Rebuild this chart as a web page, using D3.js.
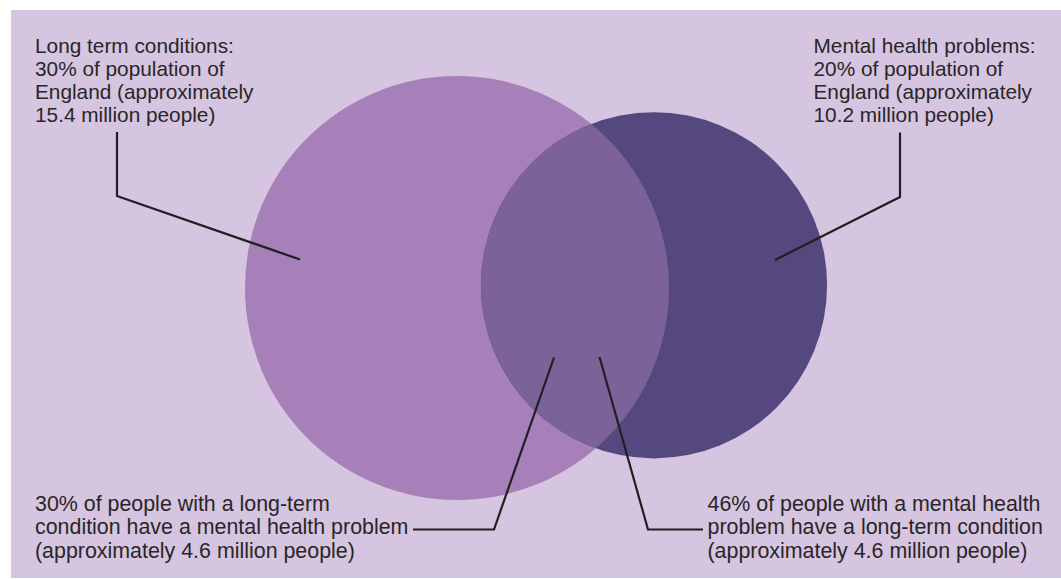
<!DOCTYPE html>
<html>
<head>
<meta charset="utf-8">
<script src="https://cdn.jsdelivr.net/npm/d3@7"></script>
<style>
  html, body { margin: 0; padding: 0; background: #ffffff; }
  svg { display: block; }
  text { font-family: "Liberation Sans", Arial, sans-serif; fill: #2a2527; }
</style>
</head>
<body>
<svg id="chart" width="1061" height="579"></svg>
<script>
// ---- data ----
const sets = ["Long term conditions", "Mental health problems"];
const populationShare = [30, 20];          // % of population of England
const populationMillions = [15.4, 10.2];  // million people
const overlapMillions = 4.6;
const overlapShareOfSet = [30, 46];        // % of each set that also has the other

const labelTop = [
  ["Long term conditions:", "30% of population of", "England (approximately", "15.4 million people)"],
  ["Mental health problems:", "20% of population of", "England (approximately", "10.2 million people)"]
];
const labelBottom = [
  ["30% of people with a long-term", "condition have a mental health problem", "(approximately 4.6 million people)"],
  ["46% of people with a mental health", "problem have a long-term condition", "(approximately 4.6 million people)"]
];

// ---- layout ----
const W = 1061, H = 579;
const svg = d3.select("#chart");
const colors = { bg: "#d5c5e0", a: "#a780b9", b: "#55487f", ab: "#7b6399", ink: "#231f20" };

svg.append("rect").attr("x", 11).attr("y", 10).attr("width", W - 11).attr("height", H - 11)
  .attr("fill", colors.bg);

const r = d3.scaleSqrt().domain([0, populationShare[0]]).range([0, 212]);
const centers = [[457, 288], [654, 285.3]];
const circles = sets.map((s, i) => ({ name: s, cx: centers[i][0], cy: centers[i][1], r: r(populationShare[i]) }));

svg.append("defs").append("clipPath").attr("id", "clipA")
  .append("circle").attr("cx", circles[0].cx).attr("cy", circles[0].cy).attr("r", circles[0].r);

svg.selectAll("circle.set").data(circles).join("circle")
  .attr("class", "set")
  .attr("cx", d => d.cx).attr("cy", d => d.cy).attr("r", d => d.r)
  .attr("fill", (d, i) => i === 0 ? colors.a : colors.b);

svg.append("circle")
  .attr("cx", circles[1].cx).attr("cy", circles[1].cy).attr("r", circles[1].r)
  .attr("clip-path", "url(#clipA)")
  .attr("fill", colors.ab);

// ---- callout lines ----
const callouts = [
  [[117, 132], [117, 196], [300, 259.5]],
  [[900, 132.5], [900, 197], [775, 260]],
  [[413, 529.5], [494, 529.5], [554, 357.5]],
  [[703, 529.5], [648, 529.5], [599.5, 357]]
];
const line = d3.line();
svg.selectAll("path.callout").data(callouts).join("path")
  .attr("class", "callout")
  .attr("d", line)
  .attr("fill", "none").attr("stroke", colors.ink).attr("stroke-width", 2.2)
  .attr("stroke-linejoin", "miter");

// ---- labels ----
function block(lines, x, y0, dy, fs) {
  const t = svg.append("text").attr("x", x).attr("y", y0).style("font-size", fs + "px");
  lines.forEach((l, i) => t.append("tspan").attr("x", x).attr("y", y0 + i * dy).text(l));
}
block(labelTop[0], 35, 52.8, 22.9, 20.8);
block(labelTop[1], 813.5, 52.8, 22.9, 20.8);
block(labelBottom[0], 35, 510.5, 23.5, 21.4);
block(labelBottom[1], 707.5, 510.5, 23.5, 21.4);
</script>
</body>
</html>
